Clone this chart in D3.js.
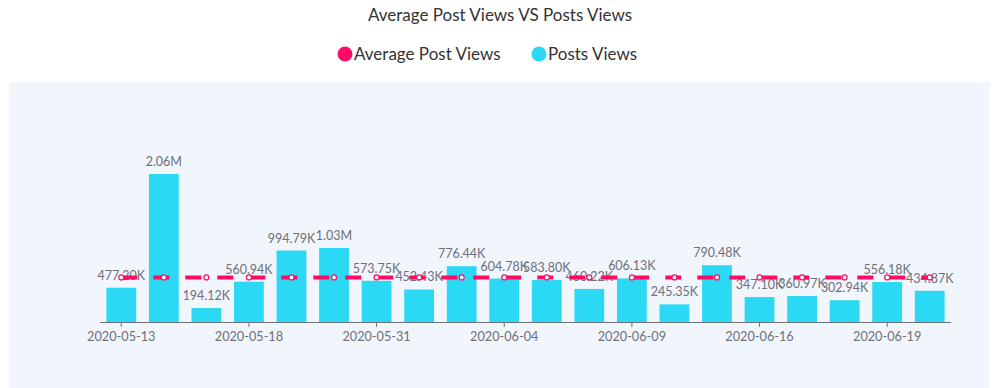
<!DOCTYPE html>
<html>
<head>
<meta charset="utf-8">
<script src="https://cdn.jsdelivr.net/npm/d3@7"></script>
<style>
  body { margin: 0; background: #fff; }
  svg { display: block; font-family: Lato, "Open Sans", sans-serif; }
</style>
</head>
<body>
<svg width="996" height="388"></svg>
<script>
(function() {
    // chart data
    var dates = ["2020-05-13", "2020-05-14", "2020-05-15", "2020-05-18", "2020-05-19",
                 "2020-05-20", "2020-05-31", "2020-06-01", "2020-06-02", "2020-06-04",
                 "2020-06-05", "2020-06-08", "2020-06-09", "2020-06-10", "2020-06-15",
                 "2020-06-16", "2020-06-17", "2020-06-18", "2020-06-19", "2020-06-20"];
    var postViews = [477200, 2060000, 194120, 560940, 994790, 1030000, 573750, 452430, 776440, 604780,
                     583800, 460220, 606130, 245350, 790480, 347100, 360970, 302940, 556180, 434870];
    var avgViews = [620620, 620620, 620620, 620620, 620620, 620620, 620620, 620620, 620620, 620620,
                    620620, 620620, 620620, 620620, 620620, 620620, 620620, 620620, 620620, 620620];
    var shownTicks = ["2020-05-13", "2020-05-18", "2020-05-31", "2020-06-04", "2020-06-09", "2020-06-16", "2020-06-19"];

    var pink = "#ff0a64";
    var cyan = "#2bd9f5";
    var grey = "#6e7079";

    const fmt = (v) => {
        if (v >= 1e6) return (v / 1e6).toFixed(2) + "M";
        return (v / 1e3).toFixed(2) + "K";
    };

    var svg = d3.select("svg");

    // panel background
    svg.append("rect")
        .attr("x", 9).attr("y", 82)
        .attr("width", 981).attr("height", 306)
        .attr("fill", "#f1f5fc");

    // title
    svg.append("text")
        .attr("x", 500).attr("y", 21)
        .attr("text-anchor", "middle")
        .attr("font-size", 17)
        .attr("fill", "#333")
        .text("Average Post Views VS Posts Views");

    // legend
    var legend = [{name: "Average Post Views", color: pink, x: 345},
                  {name: "Posts Views", color: cyan, x: 539}];
    var lg = svg.selectAll(".legend").data(legend).enter().append("g")
        .attr("class", "legend")
        .attr("transform", function(d) { return "translate(" + d.x + ",54)"; });
    lg.append("circle").attr("r", 7.5).attr("fill", function(d) { return d.color; });
    lg.append("text")
        .attr("x", 9).attr("y", 6)
        .attr("font-size", 17)
        .attr("fill", "#333")
        .text(function(d) { return d.name; });

    var x = d3.scaleBand().domain(dates).range([100, 951]).paddingInner(0.3).paddingOuter(0.15);
    var xc = function(d) { return x(d) + x.bandwidth() / 2; };
    var y = d3.scaleLinear().domain([0, 2500000]).range([322, 142.4]);

    // bars
    svg.selectAll(".bar")
        .data(dates)
        .enter().append("rect")
        .attr("class", "bar")
        .attr("x", function(d) { return x(d); })
        .attr("y", function(d, i) { return y(postViews[i]); })
        .attr("width", x.bandwidth())
        .attr("height", function(d, i) { return y(0) - y(postViews[i]); })
        .attr("fill", cyan);

    // bar labels
    svg.selectAll(".blabel")
        .data(dates)
        .enter().append("text")
        .attr("class", "blabel")
        .attr("x", xc)
        .attr("y", function(d, i) { return y(postViews[i]) - 8; })
        .attr("text-anchor", "middle")
        .attr("font-size", 12.5)
        .attr("fill", grey)
        .text(function(d, i) { return fmt(postViews[i]); });

    // x axis
    var xAxis = svg.append("g")
        .attr("transform", "translate(0,322)")
        .call(d3.axisBottom(x).tickValues(shownTicks).tickSizeOuter(0).tickSize(5).tickPadding(5));
    xAxis.select(".domain").attr("stroke", grey).attr("d", "M100,0.5H951");
    xAxis.selectAll(".tick line").attr("stroke", grey);
    xAxis.selectAll(".tick text")
        .attr("fill", grey)
        .attr("font-size", 12.7)
        .attr("font-family", "Lato, 'Open Sans', sans-serif");

    // average line
    var line = d3.line()
        .x(function(d) { return xc(d); })
        .y(function(d, i) { return y(avgViews[i]); });
    svg.append("path")
        .datum(dates)
        .attr("d", line)
        .attr("fill", "none")
        .attr("stroke", pink)
        .attr("stroke-width", 4)
        .attr("stroke-dasharray", "16,16");

    svg.selectAll(".pt")
        .data(dates)
        .enter().append("circle")
        .attr("class", "pt")
        .attr("cx", xc)
        .attr("cy", function(d, i) { return y(avgViews[i]); })
        .attr("r", 2.5)
        .attr("fill", "#fff")
        .attr("stroke", pink)
        .attr("stroke-width", 1.2);
})();
</script>
</body>
</html>
